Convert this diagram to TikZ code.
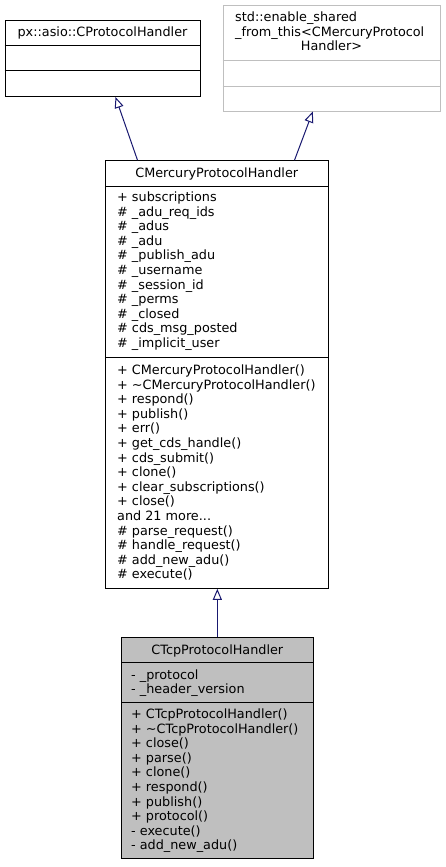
\documentclass[tikz,border=0pt]{standalone}
\usepackage{fontspec}
\setmainfont{DejaVu Sans}
\usetikzlibrary{arrows.meta,calc}
\definecolor{edgeblue}{HTML}{191970}
\definecolor{greyfill}{HTML}{BFBFBF}
\definecolor{greyline}{HTML}{BFBFBF}
\newcommand\mydots{...}
\begin{document}
\begin{tikzpicture}[x=1pt,y=-1pt,
  box/.style={draw=black, line width=1pt, fill=white, inner sep=0pt, rectangle},
  sep/.style={draw=black, line width=1pt},
  txt/.style={anchor=base west, inner sep=0pt, font=\fontsize{12.8}{14.6}\selectfont},
  ttl/.style={anchor=base, inner sep=0pt, font=\fontsize{12.8}{14.6}\selectfont},
  inh/.style={draw=edgeblue, line width=1pt, -{Triangle[open, length=11pt, width=9pt]}},
]
\useasboundingbox (0,0) rectangle (445,867);

% Box 1
\node[box, minimum width=195pt, minimum height=76pt] (b1) at (102.5,58.5) {};
\draw[sep] (b1.west |- 0,45.5) -- (b1.east |- 0,45.5);
\draw[sep] (b1.west |- 0,71) -- (b1.east |- 0,71);
\node[ttl] (b1t) at (102.5,36.5) {px::asio::CProtocolHandler};

% Box 2
\node[box, draw=greyline, minimum width=217pt, minimum height=105.5pt] (b2) at (331.5,58.25) {};
\draw[sep, draw=greyline] (b2.west |- 0,60.5) -- (b2.east |- 0,60.5);
\draw[sep, draw=greyline] (b2.west |- 0,86) -- (b2.east |- 0,86);
\node[txt] (b2l1) at (235,21.5) {std::enable\_shared};
\node[txt] (b2l2) at (235,36.1) {\_from\_this<CMercuryProtocol};
\node[ttl] (b2l3) at (331.5,50.7) {Handler>};

% Box 3
\node[box, minimum width=222.5pt, minimum height=427.6pt] (b3) at (216.75,374.5) {};
\draw[sep] (b3.west |- 0,186) -- (b3.east |- 0,186);
\draw[sep] (b3.west |- 0,357) -- (b3.east |- 0,357);
\node[ttl] (b3t) at (216.75,177.5) {CMercuryProtocolHandler};
\foreach \t [count=\i from 0] in {{+ subscriptions},{\# \_adu\_req\_ids},{\# \_adus},{\# \_adu},{\# \_publish\_adu},{\# \_username},{\# \_session\_id},{\# \_perms},{\# \_closed},{\# cds\_msg\_posted},{\# \_implicit\_user}}
  \node[txt] (b3a\i) at (117,201.5+\i*14.6) {\t};
\foreach \t [count=\i from 0] in {{+ CMercuryProtocolHandler()},{+ \textasciitilde CMercuryProtocolHandler()},{+ respond()},{+ publish()},{+ err()},{+ get\_cds\_handle()},{+ cds\_submit()},{+ clone()},{+ clear\_subscriptions()},{+ close()},{and 21 more\mydots},{\# parse\_request()},{\# handle\_request()},{\# add\_new\_adu()},{\# execute()}}
  \node[txt] (b3m\i) at (117,374.5+\i*14.6) {\t};

% Box 4
\node[box, fill=greyfill, minimum width=191.3pt, minimum height=220.3pt] (b4) at (217.35,747.85) {};
\draw[sep] (b4.west |- 0,662.7) -- (b4.east |- 0,662.7);
\draw[sep] (b4.west |- 0,702.7) -- (b4.east |- 0,702.7);
\node[ttl] (b4t) at (217.35,654) {CTcpProtocolHandler};
\foreach \t [count=\i from 0] in {{- \_protocol},{- \_header\_version}}
  \node[txt] (b4a\i) at (131,679+\i*14.6) {\t};
\foreach \t [count=\i from 0] in {{+ CTcpProtocolHandler()},{+ \textasciitilde CTcpProtocolHandler()},{+ close()},{+ parse()},{+ clone()},{+ respond()},{+ publish()},{+ protocol()},{- execute()},{- add\_new\_adu()}}
  \node[txt] (b4m\i) at (131,718.5+\i*14.6) {\t};

% Inheritance arrows
\draw[inh] ($(b3.north west)+(32.5,0)$) -- ($(b1.south west)+(111,0)$);
\draw[inh] ($(b3.north west)+(189.5,0)$) -- ($(b2.south west)+(90.3,0)$);
\draw[inh] (b4.north) -- (b4.north |- b3.south);
\end{tikzpicture}
\end{document}
